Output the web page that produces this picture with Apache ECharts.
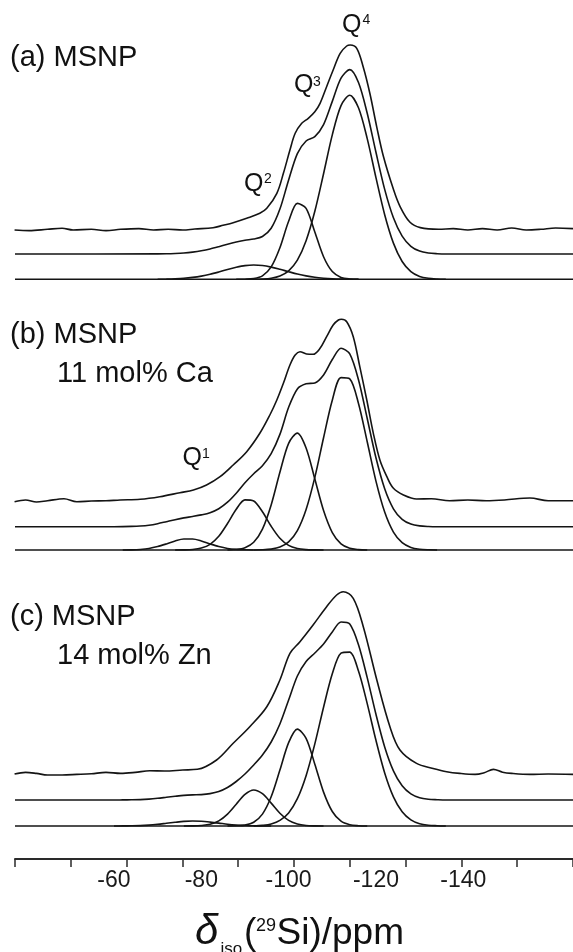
<!DOCTYPE html>
<html><head><meta charset="utf-8">
<script src="https://cdn.jsdelivr.net/npm/echarts@6/dist/echarts.min.js"></script>
<style>html,body{margin:0;padding:0;background:#fff}#c{width:573px;height:952px}</style>
</head><body><div id="c"></div>
<script>
// ---------------- data (ppm, intensity in plot units) ----------------
const TICK_LABELS = [-60, -80, -100, -120, -140];

// panel (a) MSNP : fitted grid
const GRID_A = [-70,-72,-74,-76,-78,-80,-82,-84,-86,-88,-90,-92,-94,-96,-98,-100,-102,-104,-106,-108,-110,-112,-114,-116,-118,-120,-122,-124,-126,-128,-130,-132,-134,-136];
const Q2_A = [0,0.2,0.5,1.0,1.9,3.2,5.0,7.3,9.8,12.0,13.7,14.3,13.8,12.2,10.0,7.6,5.3,3.4,2.0,1.1,0.5,0.2,0.1,0,0,0,0,0,0,0,0,0,0,0];
const Q3_A = [0,0,0,0,0,0,0,0,0,0,0.1,0.7,3.4,12.4,31.6,58.0,75.9,71.0,47.3,22.6,7.7,1.9,0.3,0,0,0,0,0,0,0,0,0,0,0];
const Q4_A = [0,0,0,0,0,0,0,0,0,0,0,0,0.3,1.1,3.3,8.5,19.2,38.6,68.0,105.6,144.4,173.7,184.0,171.5,140.7,101.7,64.6,36.2,17.8,7.7,2.9,1.0,0.3,0];
const FIT_A = [0.1,0.2,0.5,1.0,1.9,3.2,5.0,7.3,9.8,12.0,13.8,15.0,17.5,25.7,44.9,74.1,100.4,113.0,117.3,129.3,152.6,175.8,184.4,171.5,140.7,101.7,64.6,36.2,17.8,7.7,2.9,1.0,0.3,0];
const EXP_A_PPM = [-37.23,-40.58,-44.77,-48.11,-50.63,-54.82,-58.17,-61.51,-65.70,-69.05,-72.39,-75.74,-78.5,-82.7,-85.0,-87.3,-90.4,-93.4,-95.0,-97.3,-98.8,-100.3,-101.5,-103.0,-104.5,-106.0,-107.2,-108.7,-110.2,-111.8,-113.3,-114.1,-115.6,-117.1,-118.6,-120.2,-121.7,-124.0,-125.5,-127.8,-130.16,-134.35,-137.69,-141.04,-144.40,-147.75,-151.09,-154.43,-157.78,-161.14,-165.13];
const EXP_A = [-0.7,-1.3,0,1,-0.7,0,-1.3,0,0.7,-0.7,0,-0.7,0.3,1.6,4,6.6,11,16,21,36,56,79.3,96,106,111,117.6,126,142.6,159.3,176,183.3,184.3,181,162,136,102,73,40,23,7,1.7,0,0.7,-0.7,0.7,-0.7,1.3,-0.7,0,1.3,0.7];

// panel (b) MSNP 11 mol% Ca
const GRID_B = [-58,-60,-62,-64,-66,-68,-70,-72,-74,-76,-78,-80,-82,-84,-86,-88,-90,-92,-94,-96,-98,-100,-102,-104,-106,-108,-110,-112,-114,-116,-118,-120,-122,-124,-126,-128,-130,-132,-134,-136];
const Q1_B = [0,0,0.04,0.17,0.57,1.5,3.4,6.1,9.1,11.0,11.0,9.1,6.1,3.4,1.5,0.6,0.2,0.04,0,0,0,0,0,0,0,0,0,0,0,0,0,0,0,0,0,0,0,0,0,0];
const Q2_B = [0,0,0,0,0,0,0,0,0,0.1,0.5,1.9,5.7,13.7,26.5,40.8,50.1,49.0,38.2,23.7,11.7,4.6,1.5,0.4,0.1,0,0,0,0,0,0,0,0,0,0,0,0,0,0,0];
const Q3_B = [0,0,0,0,0,0,0,0,0,0,0,0,0,0,0,0.5,2.3,7.7,20.9,45.1,77.7,106.7,116.9,102.0,71.0,39.4,17.4,6.1,1.7,0.4,0,0,0,0,0,0,0,0,0,0];
const Q4_B = [0,0,0,0,0,0,0,0,0,0,0,0,0,0,0,0,0,0,0.2,0.9,2.9,8.1,19.4,40.5,72.6,112.3,149.8,172.4,171.1,146.5,108.2,68.9,37.9,17.9,7.3,2.6,0.8,0.2,0,0];
const FIT_B = [0,0,0.1,0.3,0.7,1.5,3.0,5.0,7.0,8.8,10.2,11.8,14.0,18.0,24.5,33.5,44.0,53.0,61.0,73.0,92.3,119.4,137.8,142.9,143.7,151.7,167.2,178.5,172.8,146.9,108.2,68.9,37.9,17.9,7.3,2.6,0.8,0.2,0,0];
const EXP_B_PPM = [-37.23,-39.75,-42.25,-44.77,-48.55,-51.48,-54.82,-58.17,-61.4,-66.0,-70.5,-75.1,-78.2,-81.2,-84.3,-87.3,-90.4,-93.4,-95.7,-97.3,-98.8,-100.3,-101.5,-102.6,-104.1,-105.6,-107.2,-108.7,-110.2,-111.4,-112.1,-113.3,-114.8,-116.3,-117.9,-119.4,-120.9,-122.5,-124.0,-126.3,-129.3,-132.68,-136.87,-141.04,-145.23,-149.42,-155.28,-159.45,-165.13];
const EXP_B = [-1.7,0,-2,-0.7,1.3,-1.7,-1,-0.7,0,0.7,3.3,7.3,10,15,23.3,35,48.3,66.7,85,100,116.7,135,145,148.3,146,145.7,151.7,163.3,175,180,180.7,178.3,163.3,133.3,100,66.7,40,23.3,11.7,5,1,1.3,-0.7,0,-0.7,0,2,-0.7,-0.7];

// panel (c) MSNP 14 mol% Zn
const GRID_C = [-60,-62,-64,-66,-68,-70,-72,-74,-76,-78,-80,-82,-84,-86,-88,-90,-92,-94,-96,-98,-100,-102,-104,-106,-108,-110,-112,-114,-116,-118,-120,-122,-124,-126,-128,-130,-132,-134,-136];
const Q1_C = [0,0.1,0.2,0.4,0.9,1.7,2.7,3.7,4.6,5.0,4.7,3.9,2.9,1.8,1.0,0.5,0.2,0.1,0,0,0,0,0,0,0,0,0,0,0,0,0,0,0,0,0,0,0,0,0];
const Q2_C = [0,0,0,0,0,0,0,0,0,0.1,0.5,1.7,5.1,11.9,21.8,31.6,36.0,32.3,22.9,12.8,5.6,2.0,0.5,0.1,0,0,0,0,0,0,0,0,0,0,0,0,0,0,0];
const Q3_C = [0,0,0,0,0,0,0,0,0,0,0,0,0,0,0.2,0.9,3.8,11.9,29.2,55.9,83.4,96.9,87.7,61.8,33.9,14.5,4.8,1.3,0.3,0,0,0,0,0,0,0,0,0,0];
const Q4_C = [0,0,0,0,0,0,0,0,0,0,0,0,0,0,0,0,0,0.7,2.1,5.6,13.1,27.3,50.3,82.1,118.8,152.2,172.8,173.9,155.0,122.4,85.7,53.1,29.2,14.2,6.1,2.3,0.8,0.3,0];
const FIT_C = [0,0.1,0.2,0.4,0.9,1.7,2.7,3.7,4.6,5.1,5.4,6.4,8.5,12.5,18.5,26.0,35.0,45.0,58.0,76.0,100.0,124.0,138.5,147.0,156.0,168.0,178.0,176.0,155.3,122.4,85.7,53.1,29.2,14.2,6.1,2.3,0.8,0.3,0];
const EXP_C_PPM = [-37.23,-39.75,-42.25,-44.77,-48.11,-51.48,-54.82,-58.17,-61.51,-64.86,-68.22,-71.57,-75.74,-79.1,-83.5,-87.3,-91.1,-95.0,-98.0,-100.3,-102.6,-105.6,-108.7,-111.0,-112.5,-114.8,-117.1,-120.2,-123.2,-125.5,-129.3,-133.1,-136.2,-139.2,-142.71,-144.8,-146.9,-149.0,-151.09,-155.28,-159.45,-165.13];
const EXP_C = [-1.3,0.3,-0.7,-2.3,-2.3,-1.7,-1,0.3,-0.7,0.3,2,1.7,2.7,3.4,12.7,29.4,46,66,92.7,119.4,131,147.7,166,177.7,181,174.4,146,92.7,46,22.7,9.3,4.3,1,-0.7,-1.7,0,3.3,0.5,-0.7,-1.7,-1.3,-1.7];

// ---------------- layout ----------------
const X_MIN = -165.13, X_MAX = -37.33;      // axis range (ppm), reversed
const Y_MAX = 859;                          // plot height in px units
const OFF = {                               // vertical stacking offsets
  a: { comp: 579.7, fit: 605, exp: 629.7 },
  b: { comp: 309,   fit: 332.3, exp: 359 },
  c: { comp: 33,    fit: 59,  exp: 86.3 }
};
const INK = '#141414';
const FONT = '"Liberation Sans", Arial, Helvetica, sans-serif';

function lineSeries(data, smooth) {
  return { type: 'line', data, xAxisIndex: 0, yAxisIndex: 0, showSymbol: false, symbol: 'none',
           smooth: smooth === undefined ? 0.3 : smooth, lineStyle: { color: INK, width: 1.6 },
           silent: true, animation: false, clip: false };
}
function comp(ppm, vals, off) {
  let s = vals.findIndex(v => v > 0.05);
  let e = vals.length - 1 - vals.slice().reverse().findIndex(v => v > 0.05);
  s = Math.max(0, s - 1); e = Math.min(vals.length - 1, e + 1);
  const d = [];
  for (let i = s; i <= e; i++) d.push([ppm[i], off + vals[i]]);
  return lineSeries(d);
}
function fit(ppm, vals, off) {
  const d = [[X_MAX, off]];
  ppm.forEach((p, i) => d.push([p, off + vals[i]]));
  d.push([X_MIN, off]);
  return lineSeries(d);
}
function expt(ppm, vals, off) {
  return lineSeries(ppm.map((p, i) => [p, off + vals[i]]), 0.35);
}
function base(off) { return lineSeries([[X_MAX, off], [X_MIN, off]], false); }

const series = [
  base(OFF.a.comp), comp(GRID_A, Q2_A, OFF.a.comp), comp(GRID_A, Q3_A, OFF.a.comp), comp(GRID_A, Q4_A, OFF.a.comp),
  fit(GRID_A, FIT_A, OFF.a.fit), expt(EXP_A_PPM, EXP_A, OFF.a.exp),
  base(OFF.b.comp), comp(GRID_B, Q1_B, OFF.b.comp), comp(GRID_B, Q2_B, OFF.b.comp), comp(GRID_B, Q3_B, OFF.b.comp), comp(GRID_B, Q4_B, OFF.b.comp),
  fit(GRID_B, FIT_B, OFF.b.fit), expt(EXP_B_PPM, EXP_B, OFF.b.exp),
  base(OFF.c.comp), comp(GRID_C, Q1_C, OFF.c.comp), comp(GRID_C, Q2_C, OFF.c.comp), comp(GRID_C, Q3_C, OFF.c.comp), comp(GRID_C, Q4_C, OFF.c.comp),
  fit(GRID_C, FIT_C, OFF.c.fit), expt(EXP_C_PPM, EXP_C, OFF.c.exp)
];

function txt(text, x, y, size, extra) {
  return Object.assign({ type: 'text', x, y, silent: true, z: 10,
    style: Object.assign({ text, fontSize: size, fontFamily: FONT, fill: '#111', align: 'left', verticalAlign: 'middle' }, extra || {}) });
}

const graphics = [
  txt('(a) MSNP', 10, 57.5, 29),
  txt('(b) MSNP', 10, 335, 29),
  txt('11 mol% Ca', 57, 374, 29),
  txt('(c) MSNP', 10, 616.7, 29),
  txt('14 mol% Zn', 57, 656, 29),
  txt('Q', 342, 25.5, 25), txt('4', 362.5, 20.5, 14),
  txt('Q', 294, 85.5, 25), txt('3', 313, 82, 14),
  txt('Q', 244, 184, 25), txt('2', 264, 179.5, 14),
  txt('Q', 182.5, 458, 25), txt('1', 202, 454.5, 14),
  // axis title: δiso(29Si)/ppm
  { type: 'text', x: 195, y: 932, silent: true, style: { text: 'δ', fontSize: 42, fontStyle: 'italic', fontFamily: FONT, fill: '#111', align: 'left', verticalAlign: 'middle' } },
  txt('iso', 220.5, 949, 17),
  txt('(', 244, 934, 37),
  txt('29', 256, 926.4, 18),
  txt('Si)/ppm', 276.5, 934, 37)
];

const chart = echarts.init(document.getElementById('c'), null, { renderer: 'canvas' });
chart.setOption({
  animation: false,
  backgroundColor: '#ffffff',
  grid: { left: 15, right: 0, top: 0, bottom: 952 - Y_MAX, containLabel: false, outerBoundsMode: 'none' },
  xAxis: [
    { type: 'value', position: 'bottom', min: X_MIN, max: X_MAX, inverse: true,
      axisLine: { show: false }, axisTick: { show: false }, splitLine: { show: false },
      axisLabel: { customValues: TICK_LABELS, formatter: v => String(v), fontSize: 23, color: '#1a1a1a', fontFamily: FONT, margin: 10 } },
    { type: 'value', position: 'bottom', min: 0, max: 10, interval: 1,
      axisLine: { show: true, onZero: false, lineStyle: { color: '#2a2a2a', width: 2 } },
      axisTick: { show: true, length: 8, lineStyle: { color: '#2a2a2a', width: 1.5 } },
      axisLabel: { show: false }, splitLine: { show: false } }
  ],
  yAxis: { type: 'value', min: 0, max: Y_MAX, show: false },
  series,
  graphic: graphics
});
</script></body></html>
